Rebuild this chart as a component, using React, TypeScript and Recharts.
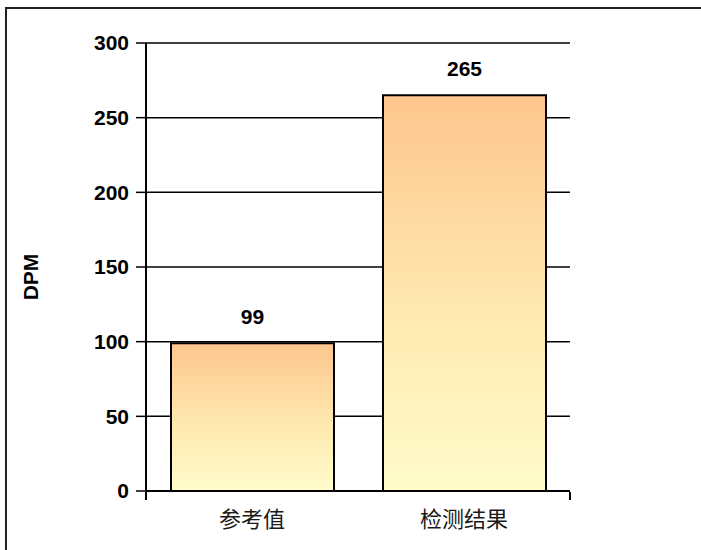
import { BarChart, Bar, XAxis, YAxis, CartesianGrid, LabelList, Label } from 'recharts'

const CATEGORIES = ['参考值', '检测结果']
const VALUES = [99, 265]
const Y_TICKS = [0, 50, 100, 150, 200, 250, 300]
const EDGE_TICKS = [0, 1, 2]

const data = CATEGORIES.map((name, i) => ({ name, value: VALUES[i] }))

const LATIN = '"Liberation Sans", Arial, sans-serif'
const CJK = '"Noto Sans CJK SC", "Noto Sans", sans-serif'

// y axis title, rotated, sitting left of the tick labels
const AxisTitle = ({ viewBox }: any) => {
  const x = viewBox.x + 30
  const y = viewBox.y + viewBox.height / 2 + 10
  return (
    <text
      x={x}
      y={y}
      transform={`rotate(-90, ${x}, ${y})`}
      textAnchor="middle"
      dominantBaseline="central"
      style={{ fontFamily: LATIN, fontWeight: 700, fontSize: 21, fill: '#000' }}
    >
      DPM
    </text>
  )
}

export default function App() {
  return (
    <div style={{ position: 'absolute', left: 0, top: 0, width: 701, height: 550, overflow: 'hidden', background: '#fff' }}>
      <div
        style={{
          position: 'absolute',
          left: 5,
          top: 7,
          width: 720,
          height: 570,
          border: '2px solid #222',
          boxSizing: 'border-box',
        }}
      />
      <div style={{ position: 'absolute', left: 0, top: 0 }}>
        <BarChart width={701} height={550} data={data} margin={{ top: 43, right: 131, bottom: 0, left: 0 }}>
          <defs>
            <linearGradient id="barFill" x1="0" y1="0" x2="0" y2="1">
              <stop offset="0%" stopColor="#FDC68E" />
              <stop offset="55%" stopColor="#FFE9B0" />
              <stop offset="100%" stopColor="#FFFCCB" />
            </linearGradient>
          </defs>
          <CartesianGrid vertical={false} stroke="#000" strokeWidth={1.5} />
          {/* category axis is stacked first, keep it 1px so the edge ticks sit right under it */}
          <XAxis
            dataKey="name"
            height={1}
            tickLine={false}
            tickSize={0}
            tickMargin={20}
            axisLine={{ stroke: '#000', strokeWidth: 2 }}
            tick={{ fontFamily: CJK, fontSize: 22, fill: '#1a1a1a' }}
          />
          <XAxis
            xAxisId="edge"
            type="number"
            domain={[0, CATEGORIES.length]}
            ticks={EDGE_TICKS}
            height={58}
            axisLine={false}
            tickFormatter={() => ''}
            tickSize={8}
            tickLine={{ stroke: '#000', strokeWidth: 2 }}
          />
          <YAxis
            width={146}
            domain={[0, 300]}
            ticks={Y_TICKS}
            tickSize={10}
            tickMargin={7}
            axisLine={{ stroke: '#000', strokeWidth: 2 }}
            tickLine={{ stroke: '#000', strokeWidth: 1.5 }}
            tick={{ fontFamily: LATIN, fontWeight: 700, fontSize: 21, fill: '#000' }}
          >
            <Label content={AxisTitle} />
          </YAxis>
          <Bar dataKey="value" fill="url(#barFill)" stroke="#000" strokeWidth={2} barSize={163} isAnimationActive={false}>
            <LabelList
              dataKey="value"
              position="top"
              offset={19}
              style={{ fontFamily: LATIN, fontWeight: 700, fontSize: 21, fill: '#000' }}
            />
          </Bar>
        </BarChart>
      </div>
    </div>
  )
}
